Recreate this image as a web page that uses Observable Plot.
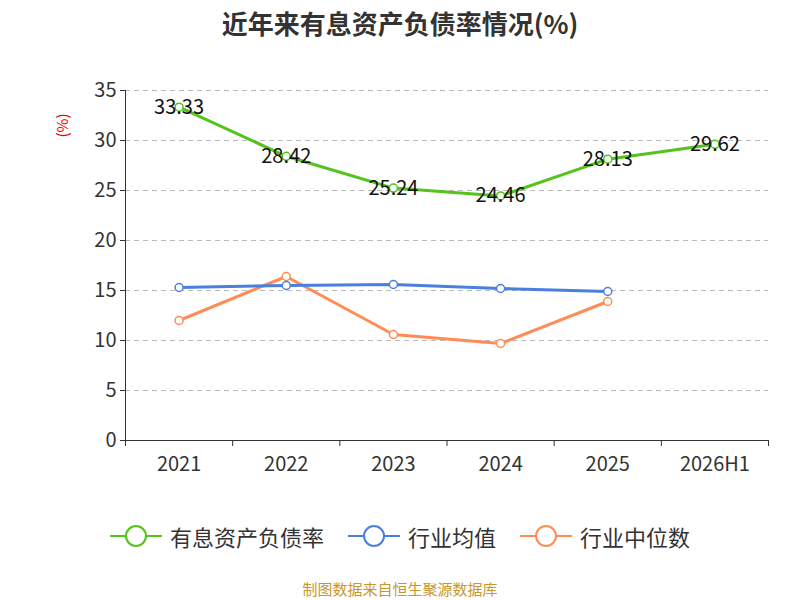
<!DOCTYPE html>
<html><head><meta charset="utf-8">
<script src="https://cdn.jsdelivr.net/npm/d3@7"></script>
<script src="https://cdn.jsdelivr.net/npm/@observablehq/plot@0.6"></script>
<style>body{margin:0;font-family:"Noto Sans CJK SC","Noto Sans",sans-serif;}#wrap{position:relative;width:800px;height:600px;}
.abs{position:absolute;left:0;width:800px;text-align:center;}
svg text{font-size:20px;}</style>
</head><body><div id="wrap"></div>
<script>
const categories = ["2021","2022","2023","2024","2025","2026H1"];
const debtRate = [33.33,28.42,25.24,24.46,28.13,29.62];
const industryAvg = [15.3,15.5,15.6,15.2,14.9];
const industryMedian = [12.0,16.4,10.6,9.7,13.9];
const yTicks = [0,5,10,15,20,25,30,35];

const g = debtRate.map((v,i)=>({x:i+0.5,y:v}));
const b = industryAvg.map((v,i)=>({x:i+0.5,y:v}));
const o = industryMedian.map((v,i)=>({x:i+0.5,y:v}));
const GREEN="#52c41a", BLUE="#4a7fe0", ORANGE="#ff8c55";
const plot = Plot.plot({
  width:800,height:600,marginTop:90,marginBottom:160,marginLeft:125,marginRight:32,
  style:{fontSize:"20px",color:"#333",fontFamily:"Noto Sans CJK SC, Noto Sans, sans-serif"},
  x:{domain:[0,6]}, y:{domain:[0,35]},
  marks:[
    Plot.gridY(yTicks.filter(t=>t>0),{stroke:"#bbb",strokeOpacity:1,strokeDasharray:"5,4"}),
    Plot.axisY(yTicks,{tickSize:5,label:null,tickPadding:4,fontSize:20}),
    Plot.ruleX([0],{stroke:"#333"}),
    Plot.ruleY([0],{stroke:"#333"}),
    Plot.axisX(d3.range(7),{tickSize:6,tickFormat:()=>"",label:null}),
    Plot.axisX(d3.range(6).map(i=>i+0.5),{tickSize:0,tickPadding:16,tickFormat:(d,i)=>categories[i],label:null,fontSize:20}),
    Plot.line(o,{x:"x",y:"y",stroke:ORANGE,strokeWidth:3}),
    Plot.line(b,{x:"x",y:"y",stroke:BLUE,strokeWidth:3}),
    Plot.line(g,{x:"x",y:"y",stroke:GREEN,strokeWidth:3}),
    Plot.dot(o,{x:"x",y:"y",r:4,fill:"white",stroke:ORANGE,strokeWidth:1.5}),
    Plot.dot(b,{x:"x",y:"y",r:4,fill:"white",stroke:BLUE,strokeWidth:1.5}),
    Plot.dot(g,{x:"x",y:"y",r:4,fill:"white",stroke:GREEN,strokeWidth:1.5}),
    Plot.text(g,{x:"x",y:"y",text:d=>d.y.toFixed(2),fontSize:21,fill:"#111"})
  ]
});
const w=document.getElementById("wrap");
w.appendChild(plot);
plot.style.position="absolute";plot.style.left="0";plot.style.top="0";
w.insertAdjacentHTML("beforeend",`
<div class="abs" style="top:4px;font-size:26px;font-weight:bold;color:#333">近年来有息资产负债率情况(%)</div>
<div style="position:absolute;left:50px;top:115px;color:#e00;font-size:15px;transform:rotate(-90deg)">(%)</div>
<div class="abs" style="top:520px;font-size:22px;color:#333;display:flex;justify-content:center;gap:24px;align-items:center">
${[[GREEN,"有息资产负债率"],[BLUE,"行业均值"],[ORANGE,"行业中位数"]].map(([c,t])=>`<span style="display:flex;align-items:center;gap:8px"><svg width="52" height="26"><line x1="0" x2="52" y1="13" y2="13" stroke="${c}" stroke-width="2"/><circle cx="26" cy="13" r="10" fill="white" stroke="${c}" stroke-width="2"/></svg>${t}</span>`).join("")}
</div>
<div class="abs" style="top:578px;font-size:15px;color:#c8962e">制图数据来自恒生聚源数据库</div>`);
</script></body></html>
